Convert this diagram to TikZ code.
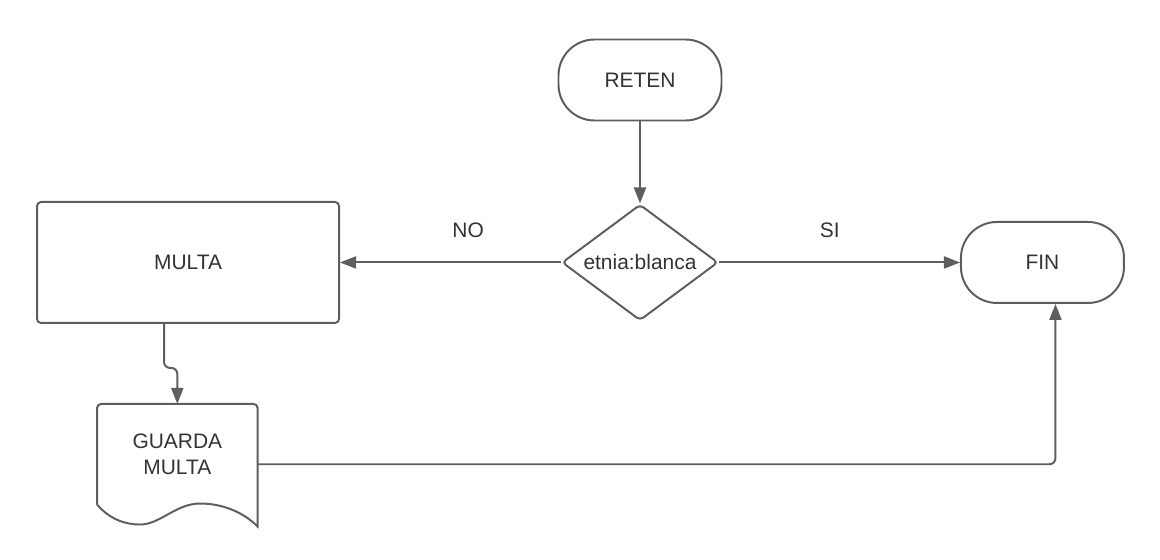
\documentclass[tikz,border=0pt]{standalone}
\usepackage{fontspec}
\setmainfont{Liberation Sans}
\usetikzlibrary{positioning, shapes.geometric, arrows.meta}
\definecolor{lineclr}{RGB}{94,94,94}
\definecolor{txtclr}{RGB}{51,51,51}

\begin{document}
\begin{tikzpicture}[
    font=\fontsize{14.9}{18.5}\selectfont,
    >={Triangle[length=4mm, width=3mm]},
    % --- node styles ---
    base/.style   ={draw=lineclr, line width=1.4pt, align=center, text=txtclr,
                    fill=white, inner sep=2pt},
    term/.style   ={base, rounded corners=9mm, minimum width=40.75mm,
                    minimum height=20.25mm},
    proc/.style   ={base, rounded corners=1mm, minimum width=75.5mm,
                    minimum height=30.25mm},
    decis/.style  ={base, diamond, aspect=1.345, rounded corners=1mm, inner sep=0pt,
                    minimum width=39mm, minimum height=29mm},
    docbox/.style ={minimum width=40mm, minimum height=30mm, inner sep=0pt},
    doctxt/.style ={align=center, text=txtclr, inner sep=0pt},
    % --- wire styles ---
    flow/.style   ={->, line width=1.4pt, color=lineclr},
    lbl/.style    ={text=txtclr, yshift=8mm},
]
\useasboundingbox (-160mm,20mm) rectangle (130mm,-120mm);

% =============== nodes ===============
\node[term] (reten) at (0,0) {RETEN};
\node[decis, below=20.5mm of reten] (etnia) {etnia:blanca};
\node[proc,  left=55.25mm of etnia] (multa) {MULTA};
\node[term,  right=60.25mm of etnia] (fin) {FIN};
\node[docbox, below right=20mm and 15.25mm of multa.south west] (guarda) {};
\node[doctxt] (guardatxt) at ([yshift=2.5mm]guarda.center) {GUARDA\\MULTA};

% document outline with wavy bottom
\draw[draw=lineclr, line width=1.4pt]
    ([yshift=5mm]guarda.south west) [rounded corners=1mm]
    -- (guarda.north west) -- (guarda.north east) [sharp corners]
    -- ([yshift=-0.5mm]guarda.south east)
    .. controls +(-4mm,4mm) and +(5mm,0) .. ([xshift=25.75mm, yshift=5.25mm]guarda.south west)
    .. controls +(-6mm,0) and +(5mm,0) .. ([xshift=10.75mm]guarda.south west)
    .. controls +(-4mm,0) and +(3mm,-3.5mm) .. ([yshift=5mm]guarda.south west);

% =============== connectors ===============
\draw[flow] (reten) -- (etnia);
\draw[flow] (etnia) -- (multa) node[lbl, pos=0.42] (no) {NO};
\draw[flow] (etnia) -- (fin) node[lbl, pos=0.46] (si) {SI};
\draw[flow, rounded corners=1.5mm] ([xshift=-6mm]multa.south)
    |- ([yshift=9mm]guarda.north) -- (guarda.north);
\draw[flow, rounded corners=1.5mm] (guarda.east) -| ([xshift=3.25mm]fin.south);

\end{tikzpicture}
\end{document}
